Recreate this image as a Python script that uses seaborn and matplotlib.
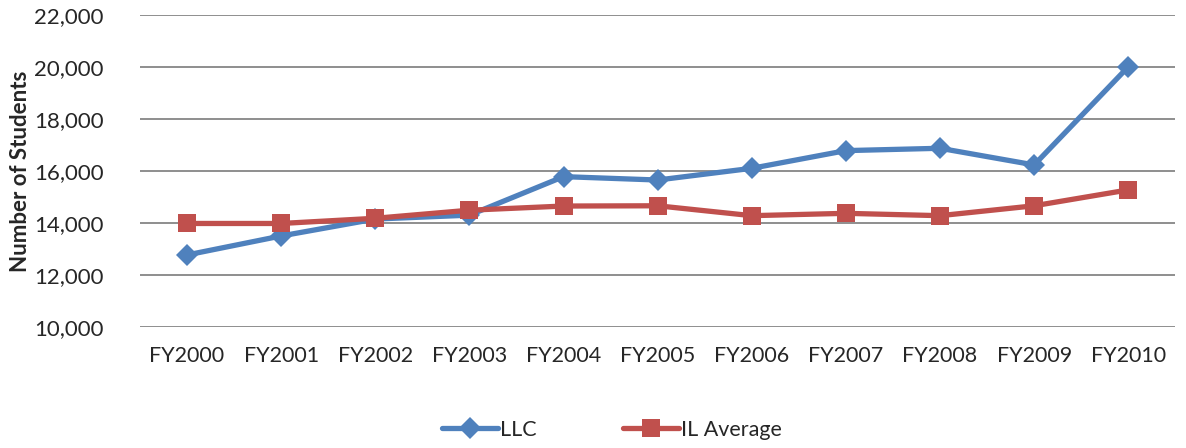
import pandas as pd
import seaborn as sns
import matplotlib.pyplot as plt
from matplotlib.ticker import FuncFormatter
from matplotlib.lines import Line2D

years = ["FY2000", "FY2001", "FY2002", "FY2003", "FY2004", "FY2005",
         "FY2006", "FY2007", "FY2008", "FY2009", "FY2010"]
llc = [12770, 13500, 14150, 14300, 15780, 15650, 16100, 16780, 16870, 16230, 20000]
il_avg = [13980, 13980, 14180, 14490, 14650, 14660, 14280, 14370, 14280, 14660, 15270]

df = pd.concat([
    pd.DataFrame({"Year": years, "Students": llc, "Series": "LLC"}),
    pd.DataFrame({"Year": years, "Students": il_avg, "Series": "IL Average"}),
])

sns.set_style("white")
plt.rcParams["font.family"] = ["Lato", "DejaVu Sans"]

fig, ax = plt.subplots(figsize=(11.86, 4.48), dpi=100)
fig.subplots_adjust(left=0.118, right=0.991, top=0.967, bottom=0.27)

sns.lineplot(data=df, x="Year", y="Students", hue="Series", style="Series",
             palette={"LLC": "#4F81BD", "IL Average": "#C0504D"},
             markers={"LLC": "D", "IL Average": "s"}, dashes=False,
             linewidth=3.8, ax=ax, legend=False)
for line, ms in zip(ax.lines, [11.5, 12.5]):
    line.set_markersize(ms)
    line.set_markeredgewidth(0)

ax.set_ylim(10000, 22000)
ax.set_yticks(range(10000, 22001, 2000))
ax.yaxis.set_major_formatter(FuncFormatter(lambda v, p: f"{int(v):,}"))
ax.set_xlim(-0.5, len(years) - 0.5)
ax.grid(axis="y", color="#868686", linewidth=1.3)
ax.set_axisbelow(True)
for s in ax.spines.values():
    s.set_visible(False)
ax.tick_params(axis="y", length=0, labelsize=16, pad=26)
ax.tick_params(axis="x", length=0, labelsize=15.5, pad=14)
ax.set_xlabel("")
ax.set_ylabel("Number of Students", fontsize=16, fontweight="bold", labelpad=2)

handles = [
    Line2D([], [], color="#4F81BD", marker="D", markersize=11.5, linewidth=3.8, markeredgewidth=0),
    Line2D([], [], color="#C0504D", marker="s", markersize=12.5, linewidth=3.8, markeredgewidth=0),
]
fig.legend(handles, ["LLC", "IL Average"], loc="lower center", ncol=2, frameon=False,
           fontsize=15.5, bbox_to_anchor=(0.516, -0.025), handlelength=2.6,
           handletextpad=0.1, columnspacing=4)

fig.savefig("out.png", dpi=100)
